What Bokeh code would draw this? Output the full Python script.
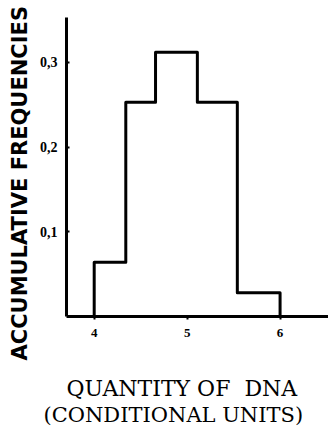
import math
from bokeh.plotting import figure
from bokeh.models import Range1d, Title, FixedTicker
from bokeh.embed import file_html
from bokeh.resources import INLINE

# Data
bin_edges = [4.0, 4.34, 4.66, 5.11, 5.54, 6.0]
frequencies = [0.064, 0.253, 0.312, 0.253, 0.028]
x_ticks = [4, 5, 6]
x_tick_labels = ["4", "5", "6"]
y_ticks = [0.1, 0.2, 0.3]
y_tick_labels = ["0,1", "0,2", "0,3"]

# Build step outline from the histogram data
xs = [bin_edges[0]]
ys = [0.0]
for i, h in enumerate(frequencies):
    xs += [bin_edges[i], bin_edges[i + 1]]
    ys += [h, h]
xs.append(bin_edges[-1])
ys.append(0.0)

p = figure(width=328, height=427, output_backend="svg", toolbar_location=None,
           x_range=Range1d(3.702, 6.521), y_range=Range1d(0, 0.353),
           min_border_left=63, min_border_right=0, min_border_top=17,
           min_border_bottom=111)
p.outline_line_color = None
p.xgrid.visible = False
p.ygrid.visible = False
p.background_fill_color = "white"

p.line(xs, ys, line_color="black", line_width=3, line_join="round")

for ax in (p.xaxis[0], p.yaxis[0]):
    ax.axis_line_width = 3
    ax.axis_line_color = "black"
    ax.major_tick_line_width = 2
    ax.minor_tick_line_color = None
    ax.major_label_text_font = "Liberation Serif"
    ax.major_label_text_font_style = "bold"
    ax.major_label_text_color = "black"

p.xaxis.ticker = FixedTicker(ticks=x_ticks)
p.xaxis.major_label_overrides = {t: l for t, l in zip(x_ticks, x_tick_labels)}
p.xaxis.major_tick_in = 0
p.xaxis.major_tick_out = 3
p.xaxis.major_label_standoff = 9
p.xaxis.major_label_text_font_size = "13px"
# blank axis label used only as vertical spacing before the two-line title
p.xaxis.axis_label = "\u00a0"
p.xaxis.axis_label_text_font_size = "10px"
p.xaxis.axis_label_standoff = 20

p.yaxis.ticker = FixedTicker(ticks=y_ticks)
p.yaxis.major_label_overrides = {t: l for t, l in zip(y_ticks, y_tick_labels)}
p.yaxis.major_tick_in = 3
p.yaxis.major_tick_out = 0
p.yaxis.major_label_standoff = 9
p.yaxis.major_label_text_font_size = "14px"

p.add_layout(Title(text="ACCUMULATIVE FREQUENCIES", align="left", offset=-44,
                   text_font="DejaVu Sans", text_font_style="bold",
                   text_font_size="21px", text_color="black", standoff=10), "left")
p.add_layout(Title(text="QUANTITY OF\u00a0 DNA", align="left", offset=0,
                   text_font="DejaVu Serif", text_font_style="normal",
                   text_font_size="22px", text_color="black", standoff=0), "below")
p.add_layout(Title(text="(CONDITIONAL UNITS)", align="left", offset=-23,
                   text_font="DejaVu Serif", text_font_style="normal",
                   text_font_size="21px", text_color="black", standoff=0), "below")

open("out.html", "w").write(file_html(p, INLINE))
